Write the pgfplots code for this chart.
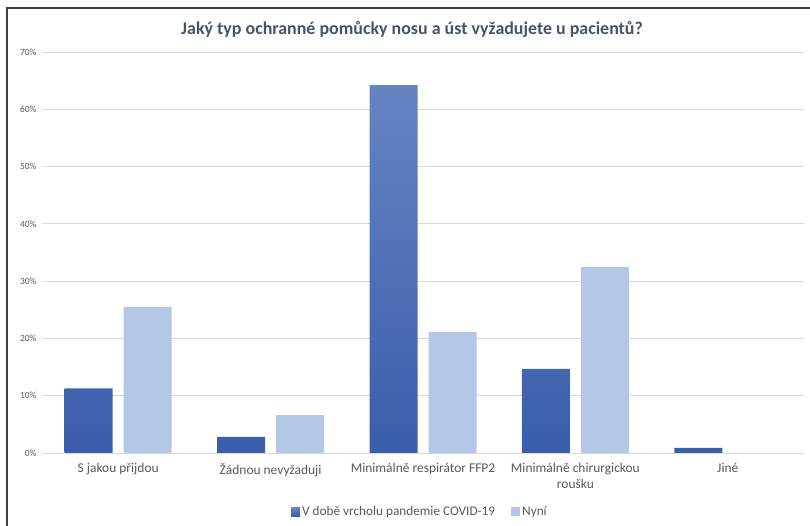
\documentclass[border=0pt]{standalone}
\usepackage{pgfplots}
\pgfplotsset{compat=1.18}
\usepackage{fontspec}
\setmainfont{Carlito}
\definecolor{titlec}{HTML}{44546A}
\definecolor{labc}{HTML}{595959}
\definecolor{gridc}{HTML}{D9D9D9}
\definecolor{darktop}{HTML}{6684C2}
\definecolor{darkbot}{HTML}{3A5DAC}
\definecolor{lightbar}{HTML}{B4C7E7}
\definecolor{framec}{HTML}{404040}
\begin{document}
\begin{tikzpicture}
\useasboundingbox (0,0) rectangle (810bp,526bp);
\fill[white] (0,0) rectangle (810bp,526bp);
\draw[framec, line width=1.5bp] (7bp,0) -- (7bp,518bp) -- (810bp,518bp);
\node[font=\fontsize{18}{20}\selectfont\bfseries, text=titlec] at (412bp,496bp)
  {Jaký typ ochranné pomůcky nosu a úst vyžadujete u pacientů?};
\begin{axis}[
  at={(42bp,73bp)}, anchor=south west,
  scale only axis,
  width=762bp, height=401bp,
  xmin=-0.5, xmax=4.5,
  ymin=0, ymax=70,
  ybar=11bp, bar width=48bp,
  axis line style={draw=none},
  axis x line*=bottom,
  ytick={0,10,...,70},
  yticklabel={\pgfmathprintnumber{\tick}\%},
  /pgf/number format/assume math mode=true,
  yticklabel style={font=\fontsize{9.5}{11}\selectfont, text=labc, xshift=-2bp},
  ymajorgrids,
  grid style={gridc, line width=0.8bp},
  major tick length=0pt,
  xtick=data,
  xticklabels={S jakou přijdou, Žádnou nevyžaduji, Minimálně respirátor FFP2,
    {Minimálně chirurgickou\\roušku}, Jiné},
  xticklabel style={font=\fontsize{13.5}{16}\selectfont, text=labc, align=center, yshift=-7bp},
  legend columns=2,
  legend style={at={(0.496,-0.147)}, anchor=center, draw=none,
    font=\fontsize{13.3}{15}\selectfont, text=labc,
    /tikz/every even column/.append style={column sep=14bp}},
  legend image code/.code={\fill[#1] (0bp,-4.5bp) rectangle (9bp,4.5bp);},
]
\addplot[top color=darktop, bottom color=darkbot, draw=none]
  coordinates {(0,11.3) (1,2.8) (2,64.2) (3,14.7) (4,0.9)};
\addlegendentry{V době vrcholu pandemie COVID-19}
\addplot[fill=lightbar, draw=none]
  coordinates {(0,25.5) (1,6.6) (2,21.1) (3,32.5) (4,0)};
\addlegendentry{Nyní}
\draw[gridc, line width=0.8bp] (rel axis cs:0,0) -- (rel axis cs:1,0);
\end{axis}
\end{tikzpicture}
\end{document}
